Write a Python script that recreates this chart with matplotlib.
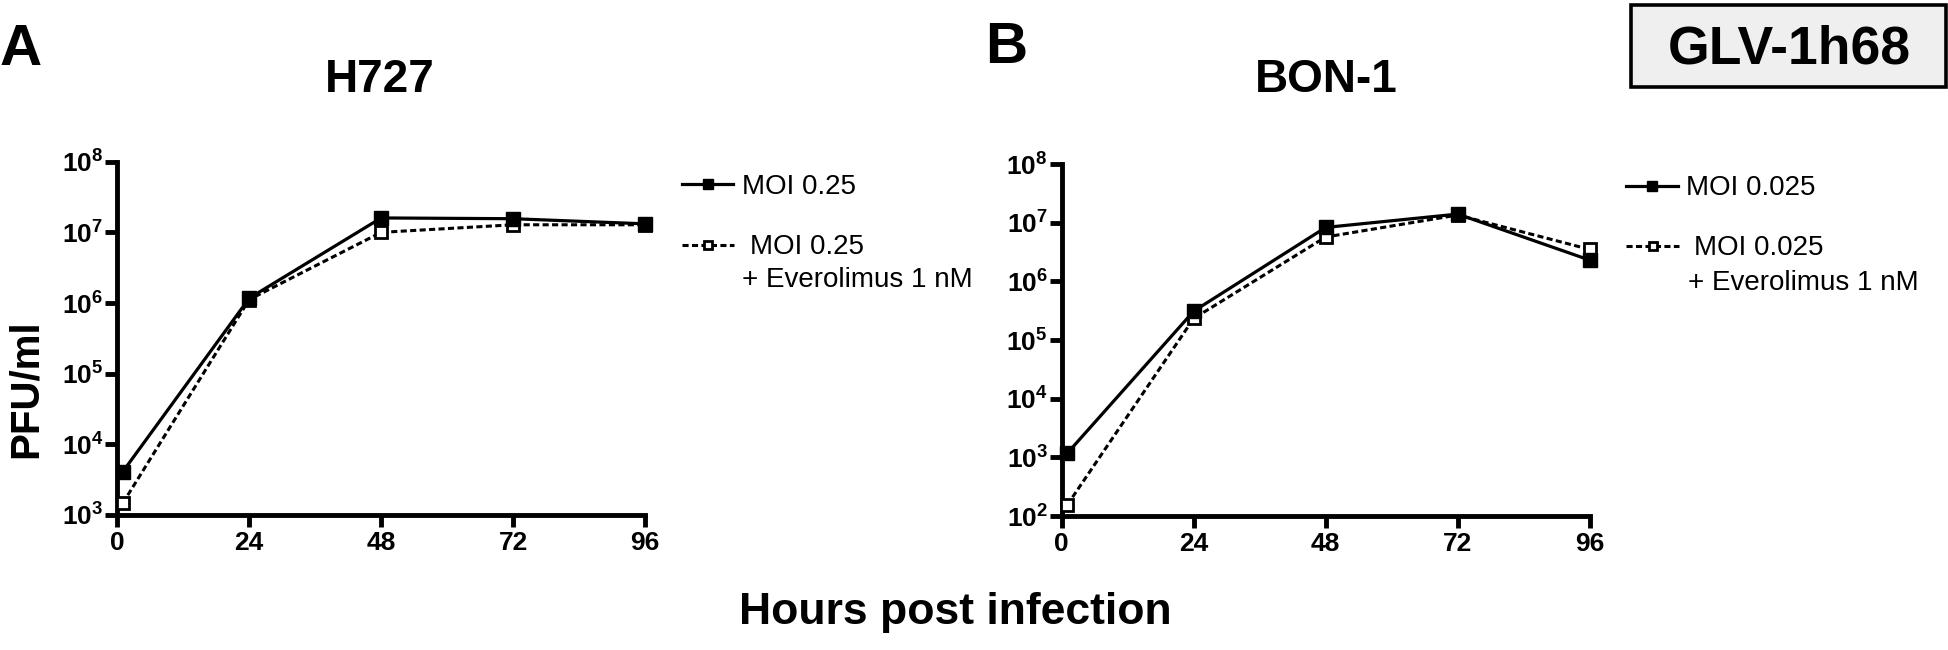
import numpy as np
import matplotlib
matplotlib.use('Agg')
import matplotlib.pyplot as plt
from matplotlib.patches import Rectangle
from matplotlib.ticker import FixedLocator, FuncFormatter, NullLocator

plt.rcParams['font.family'] = ['Liberation Sans', 'DejaVu Sans']
plt.rcParams['mathtext.fontset'] = 'custom'
plt.rcParams['mathtext.rm'] = 'Liberation Sans:bold'
plt.rcParams['mathtext.bf'] = 'Liberation Sans:bold'
plt.rcParams['mathtext.it'] = 'Liberation Sans:bold'

# data (PFU/ml)
hours = [1, 24, 48, 72, 96]
hour_ticks = [0, 24, 48, 72, 96]

h727_moi = [4.1e3, 1.17e6, 1.6e7, 1.56e7, 1.32e7]
h727_evero = [1.47e3, 1.12e6, 1.0e7, 1.28e7, 1.28e7]
bon1_moi = [1.17e3, 3.1e5, 8.3e6, 1.4e7, 2.3e6]
bon1_evero = [1.54e2, 2.33e5, 5.7e6, 1.35e7, 3.5e6]

panel_letters = ['A', 'B']
cell_lines = ['H727', 'BON-1']
moi_labels = ['MOI 0.25', 'MOI 0.025']
evero_label = '+ Everolimus 1 nM'
ymins = [1e3, 1e2]

W, H = 1948, 650


def fx(px):
    return px / W


def fy(py):
    return 1 - py / H


fig = plt.figure(figsize=(W / 100, H / 100), dpi=100)

# panel geometry in pixels: left, top, right, bottom
boxes = [(117.3, 161.7, 645.0, 515.0), (1061.7, 164.0, 1589.7, 516.0)]
letter_pos = [(0, 65), (985, 63)]
title_pos = [(380, 92), (1326, 92)]
legend_x = [681.7, 1626.3]
legend_y = [(186.7, 247.3), (188.3, 248.3)]
evero_pos = [(741.7, 280), (1688, 283.3)]
series = [(h727_moi, h727_evero), (bon1_moi, bon1_evero)]

for i in range(2):
    l, t, r, b = boxes[i]
    ax = fig.add_axes([fx(l), fy(b), (r - l) / W, (b - t) / H])
    moi, evero = series[i]

    dashed, = ax.plot(hours, evero, color='black', lw=2.2, ls=(0, (2.0, 1.1)),
                      marker='s', ms=8, mfc='white', mec='black', mew=2,
                      clip_on=False, zorder=3)
    solid, = ax.plot(hours, moi, color='black', lw=2.3, marker='s', ms=10.5,
                     mfc='black', mec='black', clip_on=False, zorder=4)

    ax.set_yscale('log')
    ax.set_xlim(0, 96)
    ax.set_ylim(ymins[i], 1e8)
    ax.xaxis.set_major_locator(FixedLocator(hour_ticks))
    ax.yaxis.set_major_locator(FixedLocator(
        [10.0 ** k for k in range(int(np.log10(ymins[i])), 9)]))
    ax.yaxis.set_minor_locator(NullLocator())
    ax.yaxis.set_major_formatter(FuncFormatter(
        lambda v, pos: r'$\mathbf{10^{%d}}$' % round(np.log10(v))))

    for side in ['top', 'right']:
        ax.spines[side].set_visible(False)
    for side in ['left', 'bottom']:
        ax.spines[side].set_linewidth(3.5)
    ax.tick_params(axis='both', direction='out', width=3.5, length=8.5,
                   labelsize=19, pad=1.5)
    ax.tick_params(axis='x', pad=3)
    for lab in ax.get_xticklabels():
        lab.set_fontweight('bold')

    fig.text(fx(letter_pos[i][0]), fy(letter_pos[i][1]), panel_letters[i],
             fontsize=42, fontweight='bold', ha='left', va='baseline')
    fig.text(fx(title_pos[i][0]), fy(title_pos[i][1]), cell_lines[i],
             fontsize=33, fontweight='bold', ha='center', va='baseline')

    fig.legend(handles=[solid], labels=[moi_labels[i]], loc='center left',
               bbox_to_anchor=(fx(legend_x[i]), fy(legend_y[i][0])),
               frameon=False, borderpad=0, borderaxespad=0,
               handlelength=1.86, handletextpad=0.3, fontsize=20,
               markerscale=0.7)
    fig.legend(handles=[dashed], labels=[moi_labels[i]], loc='center left',
               bbox_to_anchor=(fx(legend_x[i]), fy(legend_y[i][1])),
               frameon=False, borderpad=0, borderaxespad=0,
               handlelength=1.9, handletextpad=0.55, fontsize=20,
               markerscale=0.8)
    fig.text(fx(evero_pos[i][0]), fy(evero_pos[i][1]), evero_label,
             fontsize=20, ha='left', va='center')

fig.text(fx(26), fy(389), 'PFU/ml', fontsize=29, fontweight='bold',
         rotation=90, ha='center', va='center')
fig.text(fx(955), fy(624), 'Hours post infection', fontsize=32,
         fontweight='bold', ha='center', va='baseline')

fig.patches.append(Rectangle((fx(1631.3), fy(87.3)), (1946 - 1631.3) / W,
                             (87.3 - 5) / H, transform=fig.transFigure,
                             facecolor='#efefef', edgecolor='black', lw=2.6))
fig.text(fx(1789.7), fy(63.3), 'GLV-1h68', fontsize=38.5, fontweight='bold',
         ha='center', va='baseline')

fig.savefig('out.png', dpi=100)
